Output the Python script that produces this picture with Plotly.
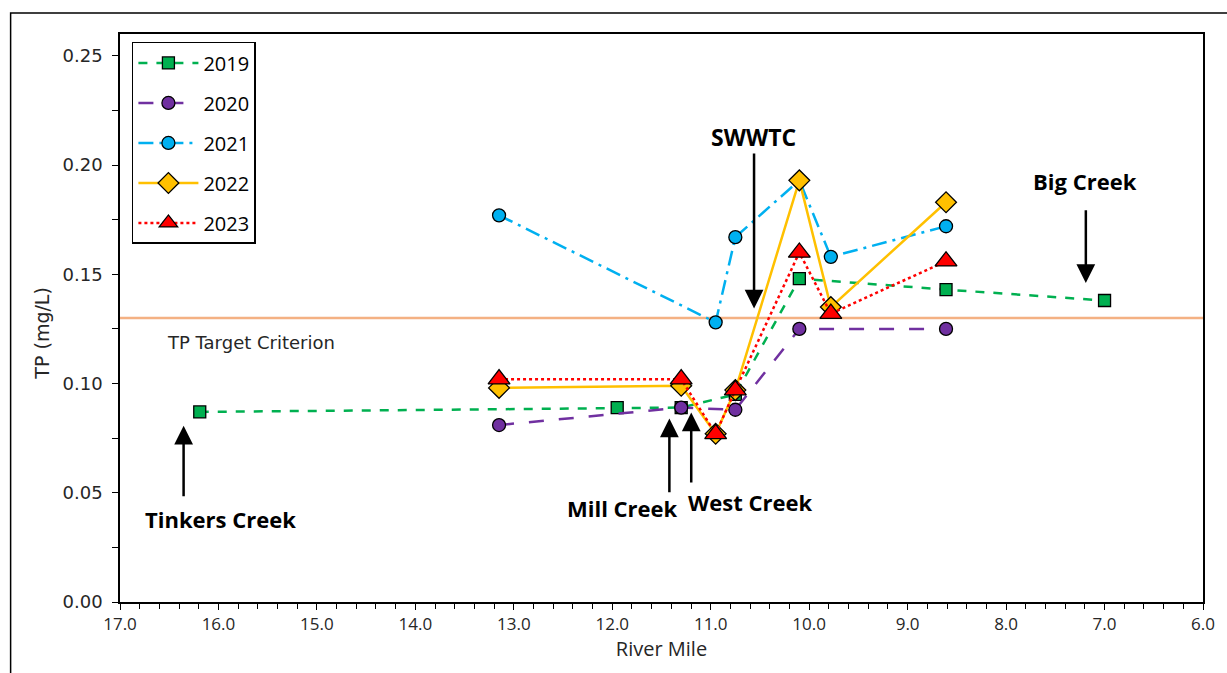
import plotly.graph_objects as go

# ---- data ----
mile_2019 = [16.19, 11.95, 11.30, 10.75, 10.10, 8.61, 7.00]
tp_2019 = [0.087, 0.089, 0.089, 0.095, 0.148, 0.143, 0.138]

mile_2020 = [13.15, 11.30, 10.75, 10.10, 8.61]
tp_2020 = [0.081, 0.089, 0.088, 0.125, 0.125]

mile_2021 = [13.15, 10.95, 10.75, 10.10, 9.78, 8.61]
tp_2021 = [0.177, 0.128, 0.167, 0.193, 0.158, 0.172]

mile_2022 = [13.15, 11.30, 10.95, 10.75, 10.10, 9.78, 8.61]
tp_2022 = [0.098, 0.099, 0.077, 0.097, 0.193, 0.135, 0.183]

mile_2023 = [13.15, 11.30, 10.95, 10.75, 10.10, 9.78, 8.61]
tp_2023 = [0.102, 0.102, 0.077, 0.097, 0.160, 0.132, 0.156]

TARGET = 0.13
x_ticks = [17, 16, 15, 14, 13, 12, 11, 10, 9, 8, 7, 6]
y_ticks = [0.0, 0.05, 0.10, 0.15, 0.20, 0.25]

FONT = "Open Sans"
WIDE = "DejaVu Sans"

series = [
    ("2019", mile_2019, tp_2019, "#00B050", "dash", "square", 12),
    ("2020", mile_2020, tp_2020, "#7030A0", "longdash", "circle", 13),
    ("2021", mile_2021, tp_2021, "#00B0F0", "longdashdot", "circle", 13),
    ("2022", mile_2022, tp_2022, "#FFC000", "solid", "diamond", 16),
    ("2023", mile_2023, tp_2023, "#FF0000", "dot", "triangle-up", 19),
]

fig = go.Figure()
for name, xs, ys, col, dash, sym, size in series:
    fig.add_trace(go.Scatter(
        x=xs, y=ys, name=name, legendgroup=name, mode="lines+markers",
        line=dict(color=col, width=2.5, dash=dash),
        marker=dict(symbol=sym, size=size, color=col, line=dict(color="black", width=1.3)),
    ))

# target line
fig.add_shape(type="line", xref="paper", x0=0, x1=1, yref="y", y0=TARGET, y1=TARGET,
              line=dict(color="#F4B183", width=2.5), layer="below")

# outer frame (right and bottom edges fall outside the picture)
fig.add_shape(type="rect", xref="paper", yref="paper", x0=-0.101, x1=1.05, y0=-0.3, y1=1.037,
              line=dict(color="black", width=1.5), fillcolor="rgba(0,0,0,0)")

fig.add_annotation(x=16.54, y=0.119, text="TP Target Criterion", showarrow=False,
                   xanchor="left", font=dict(family=WIDE, size=18, color="#262626"))

# y-axis title
fig.add_annotation(xref="paper", x=-0.0717, y=0.123, text="TP (mg/L)", showarrow=False,
                   xanchor="center", yanchor="middle",
                   textangle=-90, font=dict(family=WIDE, size=19, color="#262626"))

labels = [
    ("Tinkers Creek", 15.98, 0.038, 22),
    ("Mill Creek", 11.90, 0.043, 22),
    ("West Creek", 10.60, 0.046, 22),
    ("SWWTC", 10.57, 0.2128, 23),
    ("Big Creek", 7.20, 0.1927, 22),
]
for t, x, y, s in labels:
    fig.add_annotation(x=x, y=y, text="<b>" + t + "</b>", showarrow=False,
                       xanchor="center", font=dict(family=FONT, size=s, color="black"))

arrows = [
    (16.354, 0.0807, 0.0477),
    (11.42, 0.084, 0.0495),
    (11.198, 0.0867, 0.054),
    (10.56, 0.1344, 0.206),
    (7.19, 0.146, 0.180),
]
for x, yh, yt in arrows:
    fig.add_annotation(x=x, y=yh, ax=x, ay=yt, axref="x", ayref="y", text="",
                       showarrow=True, arrowhead=2, arrowsize=1.5, arrowwidth=2.5,
                       arrowcolor="black")

fig.update_layout(
    width=1227, height=673,
    margin=dict(l=120, r=19, t=34, b=71),
    paper_bgcolor="white", plot_bgcolor="white",
    font=dict(family=FONT, size=16, color="#262626"),
    showlegend=True,
    legend=dict(x=0.011, y=0.986, xanchor="left", yanchor="top",
                bordercolor="black", borderwidth=1.5, bgcolor="white",
                font=dict(family=FONT, size=20, color="black"),
                tracegroupgap=11, itemwidth=60),
    xaxis=dict(range=[17, 6], tickvals=x_ticks, ticktext=[f"{v:.1f}" for v in x_ticks],
               ticks="outside", ticklen=6, tickcolor="black", showline=True,
               linecolor="black", linewidth=1.5, mirror=True, showgrid=False, zeroline=False,
               minor=dict(dtick=0.2, ticks="outside", ticklen=5, tickcolor="black"),
               title=dict(text="River Mile", font=dict(size=20), standoff=2),
               tickfont=dict(size=17, color="#262626")),
    yaxis=dict(range=[0, 0.26], tickvals=y_ticks, ticktext=[f"{v:.2f}" for v in y_ticks],
               ticks="outside", ticklen=6, tickcolor="black", showline=True,
               linecolor="black", linewidth=1.5, mirror=True, showgrid=False, zeroline=False,
               minor=dict(dtick=0.025, ticks="outside", ticklen=6, tickcolor="black"),
               ticklabelstandoff=6,
               tickfont=dict(family=WIDE, size=18, color="#262626")),
)

fig.write_html("out.html")
